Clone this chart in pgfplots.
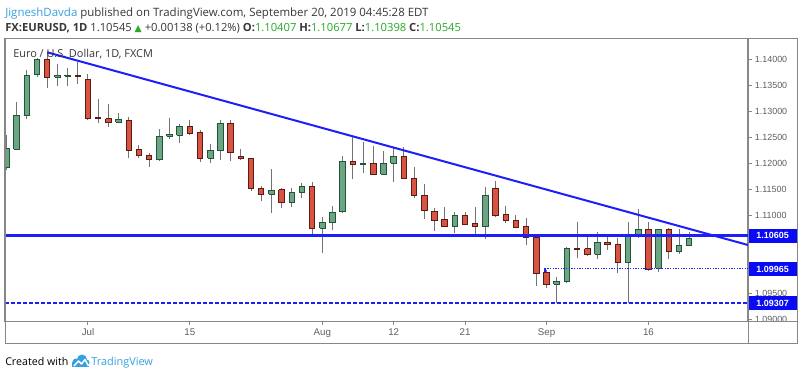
\documentclass[border=0pt]{standalone}
\usepackage{pgfplots}
\pgfplotsset{compat=1.18}
\usepackage{pgfplotstable}
\usepackage{fontspec}
\setmainfont{Open Sans}
\newfontfamily\lib{Liberation Sans}
\newfontfamily\dejavu{DejaVu Sans}
\definecolor{gfill}{HTML}{6BA583}
\definecolor{gline}{HTML}{225437}
\definecolor{rfill}{HTML}{D75442}
\definecolor{rline}{HTML}{5B1A13}
\definecolor{wick}{HTML}{737375}
\definecolor{lineblue}{RGB}{30,30,250}
\definecolor{boxblue}{RGB}{10,10,245}
\definecolor{framegray}{RGB}{135,135,135}
\definecolor{labelgray}{RGB}{95,95,95}
\definecolor{tvblue}{RGB}{55,160,225}
\definecolor{tvgreen}{RGB}{40,170,40}
\definecolor{txt}{RGB}{55,55,55}

\pgfplotstableread{
i o h l c
-8 1.11923 1.12545 1.11871 1.12276
-7 1.12270 1.13175 1.12266 1.12931
-6 1.12917 1.13798 1.12854 1.13701
-5 1.13715 1.14035 1.13669 1.14010
-4 1.14010 1.14139 1.13457 1.13657
-3 1.13657 1.13913 1.13495 1.13701
-2 1.13682 1.13830 1.13495 1.13701
-1 1.13701 1.13946 1.13522 1.13669
0 1.13618 1.13715 1.12834 1.12854
1 1.12879 1.13239 1.12771 1.12854
2 1.12854 1.13137 1.12705 1.12790
3 1.12790 1.12963 1.12771 1.12840
4 1.12834 1.12898 1.12096 1.12256
5 1.12270 1.12353 1.12096 1.12160
6 1.12150 1.12208 1.11938 1.12083
7 1.12064 1.12655 1.12044 1.12526
8 1.12520 1.12879 1.12462 1.12551
9 1.12539 1.12757 1.12397 1.12705
10 1.12705 1.12834 1.12551 1.12578
11 1.12590 1.12642 1.12031 1.12089
12 1.12096 1.12366 1.12012 1.12243
13 1.12243 1.12834 1.12064 1.12771
14 1.12771 1.12834 1.12044 1.12204
15 1.12127 1.12270 1.12064 1.12089
16 1.12096 1.12106 1.11472 1.11518
17 1.11524 1.11563 1.11279 1.11408
18 1.11408 1.11884 1.11037 1.11480
19 1.11486 1.11518 1.11133 1.11241
20 1.11241 1.11518 1.11152 1.11441
21 1.11441 1.11626 1.11337 1.11549
22 1.11549 1.11645 1.10618 1.10748
23 1.10748 1.10971 1.10277 1.10855
24 1.10855 1.11177 1.10715 1.11056
25 1.11067 1.12141 1.11048 1.12039
26 1.12039 1.12513 1.11692 1.11981
27 1.11981 1.12416 1.11807 1.12006
28 1.12000 1.12333 1.11775 1.11794
29 1.11794 1.12243 1.11788 1.11987
30 1.12000 1.12320 1.11645 1.12141
31 1.12141 1.12308 1.11703 1.11711
32 1.11711 1.11923 1.11326 1.11389
33 1.11389 1.11601 1.10921 1.11087
34 1.11081 1.11133 1.10696 1.10907
35 1.10921 1.11152 1.10778 1.10786
36 1.10778 1.11067 1.10663 1.10985
37 1.10990 1.11067 1.10811 1.10830
38 1.10844 1.11152 1.10638 1.10792
39 1.10778 1.11549 1.10536 1.11389
40 1.11518 1.11659 1.10960 1.11004
41 1.11017 1.11177 1.10855 1.10894
42 1.10907 1.11004 1.10748 1.10767
43 1.10778 1.10940 1.10426 1.10574
44 1.10574 1.10574 1.09636 1.09880
45 1.09900 1.09944 1.09591 1.09674
46 1.09674 1.09803 1.09307 1.09726
47 1.09719 1.10381 1.09688 1.10362
48 1.10362 1.10875 1.10170 1.10343
49 1.10355 1.10576 1.10210 1.10247
50 1.10247 1.10682 1.10156 1.10470
51 1.10478 1.10605 1.10329 1.10439
52 1.10445 1.10555 1.09880 1.10092
53 1.10092 1.10875 1.09307 1.10632
54 1.10632 1.11114 1.10566 1.10728
55 1.10734 1.10875 1.09925 1.09958
56 1.09977 1.10728 1.09911 1.10728
57 1.10728 1.10748 1.10150 1.10297
58 1.10297 1.10728 1.10252 1.10426
59 1.10407 1.10677 1.10398 1.10545
}\candles

\begin{document}
\begin{tikzpicture}
\begin{scope}[x=0.75pt,y=-0.75pt]
\fill[white] (0,0) rectangle (800,376);
\useasboundingbox (0,0) rectangle (800,376);
\end{scope}
\begin{axis}[
  at={(3.75pt,-240.75pt)}, anchor=south west,
  width=557.25pt, height=211.875pt, scale only axis,
  xmin=-8.145, xmax=64.77, ymin=1.089615, ymax=1.14405,
  axis line style={draw=framegray, line width=0.75pt},
  tick style={draw=framegray, line width=0.75pt},
  tick align=outside, major tick length=3pt,
  xtick pos=left, ytick pos=right, yticklabel pos=right,
  xtick={0,10,23,30,37,45,55}, xticklabels={Jul,15,Aug,12,21,Sep,16},
  ytick={1.09,1.095,1.1,1.105,1.11,1.115,1.12,1.125,1.13,1.135,1.14},
  yticklabels={1.09000,1.09500,{},{},1.11000,1.11500,1.12000,1.12500,1.13000,1.13500,1.14000},
  scaled y ticks=false,
  /pgf/number format/assume math mode=true,
  yticklabel style={font=\lib\fontsize{6.7}{8}\selectfont, text=labelgray, anchor=west, inner sep=0pt, xshift=2pt},
  xticklabel style={font=\lib\fontsize{7.3}{8}\selectfont, text=labelgray, anchor=base, yshift=-7.5pt},
]
\pgfplotsforeachungrouped \r in {0,...,67}{%
  \pgfplotstablegetelem{\r}{i}\of\candles \let\ci\pgfplotsretval
  \pgfplotstablegetelem{\r}{o}\of\candles \let\co\pgfplotsretval
  \pgfplotstablegetelem{\r}{h}\of\candles \let\ch\pgfplotsretval
  \pgfplotstablegetelem{\r}{l}\of\candles \let\cl\pgfplotsretval
  \pgfplotstablegetelem{\r}{c}\of\candles \let\cc\pgfplotsretval
  \pgfmathtruncatemacro\up{(\cc>=\co) ? 1 : 0}%
  \ifnum\up=1 \def\fc{gfill}\def\bc{gline}\else\def\fc{rfill}\def\bc{rline}\fi
  \pgfmathsetmacro\xa{\ci-0.27}%
  \pgfmathsetmacro\xb{\ci+0.27}%
  \edef\temp{\noexpand\addplot[draw=wick, line width=0.75pt] coordinates {(\ci,\cl) (\ci,\ch)};
    \noexpand\addplot[draw=\bc, fill=\fc, line width=0.75pt, line join=miter] coordinates {(\xa,\co) (\xb,\co) (\xb,\cc) (\xa,\cc) (\xa,\co)};}%
  \temp
}
\addplot[lineblue, line width=1.9pt] coordinates {(-8.145,1.10605) (64.77,1.10605)};
\addplot[lineblue, line width=1.5pt, dash pattern=on 3pt off 1.5pt] coordinates {(-8.145,1.09307) (64.77,1.09307)};
\addplot[lineblue, line width=0.8pt, dash pattern=on 1pt off 1pt] coordinates {(44.85,1.0991) (44.85,1.09965) (64.77,1.09965)};
\addplot[lineblue, line width=1.5pt] coordinates {(-4,1.14139) (64.77,1.10426)};
\coordinate (p1) at (axis cs:64.77,1.10605);
\coordinate (p2) at (axis cs:64.77,1.09965);
\coordinate (p3) at (axis cs:64.77,1.09307);
\end{axis}
% cover the part of the price scale below the plot
\begin{scope}[x=0.75pt,y=-0.75pt]
\fill[white] (748.5,321.5) rectangle (797,342.5);
\end{scope}
\foreach \p/\t in {p1/1.10605,p2/1.09965,p3/1.09307}{
  \node[fill=boxblue, text=white, font=\lib\bfseries\fontsize{6.7}{8}\selectfont, anchor=west,
        minimum width=36.5pt, minimum height=10.5pt, inner sep=0pt] at (\p) {\t};
}
\begin{scope}[x=0.75pt,y=-0.75pt]
\draw[framegray, line width=0.75pt] (5,38.5) rectangle (797,343);
\draw[framegray, line width=0.75pt] (5,321) -- (797,321);
\draw[framegray, line width=0.75pt] (748,38.5) -- (748,343);
\node[anchor=base west, inner sep=0pt, text=txt, font=\fontsize{8.6}{10}\selectfont] at (5,16)
  {{\color{tvblue}JigneshDavda} published on TradingView.com, September 20, 2019 04:45:28 EDT};
\node[anchor=base west, inner sep=0pt, text=txt, font=\fontsize{8.4}{10}\selectfont] at (5,31)
  {\textbf{FX:EURUSD, 1D} 1.10545 {\dejavu\color{tvgreen}\fontsize{7}{8}\selectfont ▲} +0.00138 (+0.12\%) \textbf{O:}{\color{tvgreen}1.10407} \textbf{H:}{\color{tvgreen}1.10677} \textbf{L:}{\color{tvgreen}1.10398} \textbf{C:}{\color{tvgreen}1.10545}};
\node[anchor=base west, inner sep=0pt, text=txt, font=\fontsize{8.2}{10}\selectfont] at (13,57)
  {Euro / U.S. Dollar, 1D, FXCM};
\node[anchor=base west, inner sep=0pt, text=black, font=\fontsize{8}{10}\selectfont] at (5,365)
  {Created with};
\fill[tvblue] (72,367) rectangle (89,362);
\fill[tvblue] (76,362) circle (3.5);
\fill[tvblue] (82,359.5) circle (5);
\fill[tvblue] (86.5,362.5) circle (3);
\draw[white, line width=1.1pt, line join=round] (74,366) -- (78.5,361) -- (81.5,364) -- (85,359.5) -- (88.5,366);
\node[anchor=base west, inner sep=0pt, text=tvblue, font=\fontsize{8.2}{10}\selectfont] at (91,365)
  {TradingView};
\end{scope}
\end{tikzpicture}
\end{document}
